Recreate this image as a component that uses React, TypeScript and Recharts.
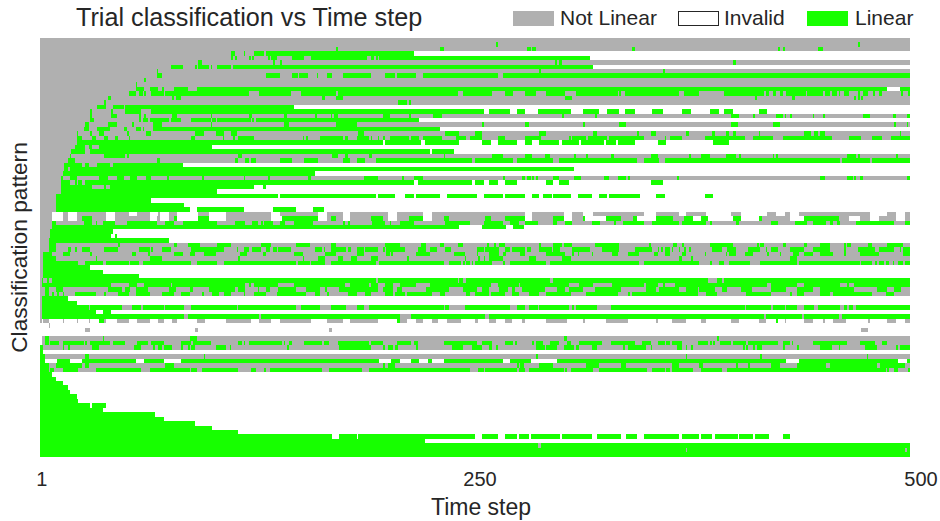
import React from "react";
import { BarChart, Bar, XAxis, YAxis, Legend } from "recharts";

// Runs are flat lists of [from, to, from, to ...] in time steps, one list per trial row.
const A = [0, 500];
const notLinearRuns: number[][] = [
  A, A, A, [0,215], [0,316], A, [0,318], A, A, A,
  A, [0,487,494,500], A, A, A, [0,146], [0,64], A, [0,218], A,
  [0,230], A, A, [0,21], [0,34], [0,29], A, A, [0,82], [0,17],
  [0,13], A, [0,26], [0,40], [0,12], [0,9], [0,9], [0,9], [0,9],
  [0,7,13,16,21,38,43,51,56,63,68,69,74,79,91,97,107,133,138,160,165,174,178,200,205,220,225,279,283,301,306,312,318,347,354,367,371,383,397,403,418,423,428,431,436,477,487,492,497,500],
  [0,7,13,16,21,38,43,63,67,69,74,79,91,97,107,133,165,174,178,200,205,220,225,279,283,301,306,312,334,341,364,370,415,431,459,465,471,477,482,492,497,500],
  A, [0,7], [0,6], [0,6], [0,5], A, A, A, A,
  A, [0,2], [0,2], [0,2], A, A, A, A, [0,1], [0,1],
  A, [0,1], A,
  [0,1,2,5,13,14,21,22,28,29,37,38,44,51,56,63,68,71,76,79,90,95,107,121,126,133,138,156,165,174,178,194,207,211,216,220,225,229,234,242,250,252,258,262,267,271,277,279,291,303,312,313,325,338,354,355,363,371,380,383,397,402,413,417,428,429,439,444,450,451,456,463,476,477,487,492,497,500],
  [5,6], [26,29,89,91,166,168,472,476], [], [1,500], [1,500], [2,500],
  [], [3,500], [], A, A, [], [], [], [], [],
  [], [], [], [], [], [], [], [], [], [],
  [], [286,288], [371,372,497,498], [],
];

const linearRuns: number[][] = [
  [],
  [262,263,470,471],
  [170,171,230,232,280,282,283,285,340,342,424,425,427,428,447,448,448,450],
  [110,112,117,118,123,129,130,215],
  [110,111,112,113,120,121,122,123,131,132,133,136,145,152,156,188,190,192,193,194,195,316],
  [91,93,134,135,138,139,296,297,298,300,398,400],
  [75,82,89,90,91,97,98,99,102,110,111,318],
  [67,68,287,288,358,359],
  [67,70,130,138,145,148,149,154,159,160,165,168,174,190,198,204,205,216,220,263,266,500],
  [60,61],
  [55,56],
  [55,60,63,68,70,71,77,85,90,487,494,500],
  [51,55,57,59,60,61,64,71,72,120,126,144,150,170,171,240,243,260,267,272,279,285,291,302,308,332,333,334,336,367,370,371,371,379,393,416,417,419,421,423,425,427,429,440,441,444,444,448,448,450,451,452,452,454,455,458,459,460,462,465,470,471,473,476,479,480,482,484,495,496,499,500],
  [39,41,76,77,78,81,162,164,170,174,302,306,411,412,432,434,468,469,470,471,472,473],
  [37,38,206,211,212,213],
  [33,38,42,48,49,146],
  [29,30,41,42,49,58,64,255,258,270,274,279,286,305,312,321,326,333,336,342,352,358,369,374,385,390,393,398,413,418],
  [29,30,41,44,57,58,60,61,76,79,98,99,120,122,140,142,158,159,167,168,169,171,197,201,212,213,226,231,300,301,319,320,397,402,410,411,423,427,428,429,431,432,444,445,450,451,473,477,490,492,498,500],
  [29,31,57,58,59,62,63,74,75,81,87,98,99,101,102,121,122,123,124,218],
  [26,28,39,44,53,54,65,70,98,99,140,143,170,182,254,255,279,281,312,313,333,337,397,401,421,423,423,425,491,492,498,499],
  [25,28,33,40,48,50,55,58,59,60,65,230],
  [21,22,29,30,34,37,50,51,61,64,89,94,101,106,110,113,183,186,233,241,250,254,287,291,318,320,343,344,351,354,371,373,386,388,394,396,398,400,413,414,439,443,445,447,448,451,494,495],
  [21,24,30,32,37,39,43,45,51,52,87,89,105,106,111,112,114,123,151,152,153,154,161,174,175,177,182,189,190,191,194,195,197,198,201,212,213,218,220,231,239,245,247,254,263,267,279,287,287,288,304,305,306,314,315,326,327,347,359,360,362,369,382,405,410,421,427,455,465,472,478,484,489,500],
  [21,197,198,219,221,241,254,259,263,274,279,283,287,298,300,310,311,324,325,331,332,342,355,360,387,396],
  [20,26,28,30,34,99],
  [18,26,29,224,225,238],
  [17,18,37,49,50,51,114,116,168,170,170,171,175,177,189,191,232,233,260,266,279,283,290,293,307,308,314,315,328,330,351,355,373,374,380,385,394,400,402,403,421,422,423,424,464,469,470,471,492,493],
  [16,20,67,69,112,114,118,120,121,124,138,145,152,160,174,178,182,187,193,248,250,272,274,295,298,343,347,356,359,460,461,477,478,500],
  [14,24,26,28,33,40,42,82],
  [14,16,17,307],
  [13,158],
  [12,13,17,21,34,39,44,48,52,56,61,64,73,74,93,94,117,118,131,132,154,156,186,194,208,209,215,220,266,267,277,279,280,282,283,284,285,286,295,298,307,311,324,327,332,337,338,339,366,367,448,451,464,467,468,469,471,473,498,500],
  [12,17,20,21,22,24,26,215,217,248,250,255,258,263,267,274,291,295,298,304,351,358],
  [12,30,37,38,40,123,128,130],
  [12,102],
  [9,137,138,193,194,204,210,215,216,230,234,251,255,266,267,279,283,287,289,294,295,305,309,317,321,326,327,345,354,359,382,387],
  [9,64],
  [9,83],
  [9,86,90,117,134,147,157,163],
  [],
  [24,30,77,79,91,97,139,160,167,170,190,197,212,220,232,235,256,259,267,279,295,301,312,313,325,334,341,343,354,364,370,375,380,384,398,403,413,415,439,459],
  [7,9,25,30,32,33,36,43,50,67,72,77,82,102,112,118,122,125,127,128,129,134,138,141,146,157,174,175,177,178,191,198,201,202,207,215,233,247,255,266,270,275,279,286,295,297,302,306,317,322,330,331,335,347,352,367,369,383,385,386,400,402,420,424,434,441,444,452,454,456,458,460,469,491,497,500],
  [7,241,254,268,272,278],
  [6,42],
  [6,41,43,44],
  [5,74],
  [5,9,45,46,77,79,85,92,102,110,127,133,147,155,167,170,198,207,219,222,230,232,240,243,257,258,261,262,264,267,287,288,295,300,301,306,319,333,350,351,364,366,369,370,385,398,412,413,414,416,427,429,439,441,448,454,462,463,464,466,476,478,487,496],
  [5,9,16,18,20,21,24,29,37,45,57,63,64,65,70,75,87,106,113,114,117,120,122,127,130,132,134,136,137,144,158,162,163,164,167,176,177,179,182,186,187,194,197,198,199,210,217,222,224,228,233,236,251,255,256,264,267,270,271,279,280,282,287,294,295,299,306,316,323,333,342,352,355,356,357,358,359,360,360,362,363,364,367,368,370,371,373,374,386,392,395,400,407,414,417,418,420,424,431,439,444,454,462,463,470,480,482,491,494,495,496,500],
  [2,5,5,7,13,17,29,30,53,55,62,63,77,82,86,89,94,101,115,119,128,130,146,151,164,170,182,186,199,201,202,203,216,224,238,244,251,252,258,264,266,268,276,279,291,302,306,307,309,310,317,318,329,332,338,344,353,355,359,362,369,371,382,383,394,395,396,400,405,410,418,419,425,426,433,436,439,444,448,456,462,463,471,482,496,500],
  [2,9,32,33,63,70,114,115,151,152,160,164,171,174,179,182,190,194,211,212,244,245,252,253,255,256,258,266,281,285,300,305,367,369,374,375,431,435],
  [2,22,26,36,38,51,52,57,59,87,90,102,106,147,148,155,156,164,167,193,195,232,235,242,243,244,245,247,248,249,250,260,266,267,270,291,293,344,347,379,385,386,390,393,396,408,414,435,436,439,439,471,472,478,480,481,482,485,486,488,490,491,493,496,497,500],
  [2,29],
  [2,36],
  [2,57],
  [1,2,4,5,7,193,194,240,241,243,245,293,295,384,389,392,393,500],
  [1,2,2,41,51,56,60,75,76,118,120,121,123,137,146,175,178,189,190,194,198,203,207,216,224,259,263,275,276,304,310,318,329,347,348,355,358,359,365,418,420,435,439,460,464,465,468,500],
  [3,5,9,13,39,47,49,52,55,62,74,78,86,88,97,112,114,118,125,126,130,132,137,147,153,161,164,165,172,186,186,194,197,203,205,208,222,235,243,251,254,258,264,269,271,273,277,290,297,302,304,312,319,334,348,354,356,367,371,378,379,388,392,395,403,409,420,429,435,444,448,468,481,487,491,495],
  [3,5,7,8,10,11,13,14,20,32,37,38,45,51,55,63,70,77,81,86,93,94,99,103,106,110,117,118,123,130,136,153,158,161,165,166,177,182,187,190,198,203,204,210,211,225,230,233,245,247,250,258,259,267,271,275,281,287,291,305,314,332,338,339,340,378,383,389,406,420,431,432,435,439,448,454,456,478,486,491],
  [1,16],
  [1,21],
  [1,28,29,47,53,58,59,71,72,83,87,113,114,136,136,147,150,161,167,176,182,186,189,232,233,235,244,270,274,279,281,286,287,304,306,307,308,320,328,405,406,420,421,428,429,435,439,445,447,460,462,464,465,467,469,500],
  [1,32,36,41],
  [1,83,85,126,127,207,213,256,258,416,417,438,439,459,461,500],
  [34,37,205,207,423,424],
  [], [], [],
  [3,5,36,37,86,90,301,303,389,390],
  [3,5,6,9,9,11,13,25,26,27,29,40,42,49,56,62,64,71,81,87,88,89,89,98,114,116,117,118,120,139,140,141,143,145,152,162,163,166,171,189,190,197,205,213,215,217,232,251,254,260,267,272,273,274,283,284,285,289,293,298,303,305,310,323,328,342,346,351,355,359,360,362,363,369,378,384,385,386,387,388,391,397,398,406,407,424,427,431,432,433,444,464,471,480,484,487],
  [0,2,13,14,16,17,30,34,54,58,65,66,68,70,71,76,81,82,85,86,87,89,101,107,109,110,142,143,172,190,197,198,200,203,204,206,216,217,237,243,248,254,258,260,262,263,285,290,291,297,301,307,308,310,317,320,335,336,338,347,347,348,351,352,366,369,371,372,374,375,404,405,406,407,410,411,412,415,427,428,435,436,448,455,459,460,474,481,492,493,494,500],
  [0,2],
  [0,3,26,28,94,95,285,286,371,372,414,415,475,476],
  [0,3,10,17,24,55,60,71,81,195,202,207,213,218,223,225,232,266,270,282,297,429,436,493,498,500],
  [0,5,9,24,26,28,72,77,197,198,200,201,201,204,274,275,276,278,287,295,314,321,334,337,363,367,379,381,400,401,407,408,420,425,435,452,454,481,483,497],
  [0,5,6,8,13,14,14,22,32,58,63,86,87,90,93,114,121,124,129,130,132,162,166,185,189,247,252,255,256,274,275,276,276,279,281,301,302,303,305,318,321,349,352,359,360,362,363,375,380,392,395,486,487,488,491,493,499,500],
  [0,7], [0,9], [0,13], [0,16], [0,17], [0,21], [0,22],
  [0,29,30,38],
  [0,36], [0,66], [0,71], [0,89], [0,99], [0,114],
  [0,168,172,182,183,250,254,263,267,274,275,279,279,281,282,299,300,317,320,334,337,343,347,367,369,379,380,386,388,401,402,410,411,419,427,431],
  [0,221],
  [0,286,288,500],
  [0,371,372,497,498,500],
  [0,500],
];

const tickValues = [1, 250, 500];
const legendItems = ["Not Linear", "Invalid", "Linear"];
const NOT_LINEAR = "#b0b0b0";
const LINEAR = "#17ff00";
const INK = "#262626";
const FONT = '"Liberation Sans", Arial, sans-serif';
const ROW_PX = 419 / 94;

type Mark = { row: number; range: [number, number]; kind: string };
const marks: Mark[] = [];
const collect = (runs: number[][], kind: string) =>
  runs.forEach((list, i) => {
    for (let k = 0; k + 1 < list.length; k += 2) {
      marks.push({ row: i + 0.5, range: [list[k], list[k + 1]], kind });
    }
  });
collect(notLinearRuns, "not");
collect(linearRuns, "lin");

const AxisTick = (p: any) => {
  const v = p.payload.value;
  return (
    <text x={p.x + (v === 1 ? 0 : v === 250 ? 5 : 11)} y={p.y + 21} textAnchor="middle" fontSize={20} fill={INK} fontFamily={FONT}>
      {v}
    </text>
  );
};

// The bar supplies x, width and the row position from the chart's scales.
const RowCell = (p: any) => (
  <rect
    x={p.x}
    y={p.y + p.height / 2 - ROW_PX / 2}
    width={p.width}
    height={ROW_PX}
    fill={p.payload.kind === "lin" ? LINEAR : NOT_LINEAR}
  />
);

const LegendBox = () => {
  const base: React.CSSProperties = { position: "absolute", top: 5, fontSize: 21, lineHeight: "26px", color: INK, fontFamily: FONT, whiteSpace: "nowrap" };
  const sw: React.CSSProperties = { position: "absolute", top: 11, height: 15, boxSizing: "border-box" };
  return (
    <div style={{ position: "absolute", left: 0, top: 0, width: 940, height: 38 }}>
      <div style={{ ...sw, left: 513, width: 41, background: NOT_LINEAR }} />
      <div style={{ ...base, left: 560 }}>{legendItems[0]}</div>
      <div style={{ ...sw, left: 678, width: 41, border: `1px solid ${INK}`, background: "#fff" }} />
      <div style={{ ...base, left: 724 }}>{legendItems[1]}</div>
      <div style={{ ...sw, left: 807, width: 41, background: LINEAR }} />
      <div style={{ ...base, left: 855 }}>{legendItems[2]}</div>
    </div>
  );
};

export default function App() {
  return (
    <div style={{ position: "absolute", left: 0, top: 0, width: 940, height: 521, background: "#fff" }}>
      <BarChart
        width={940}
        height={521}
        layout="vertical"
        data={marks}
        barSize={4}
        margin={{ top: 38, right: 30, bottom: 0, left: 0 }}
        style={{ shapeRendering: "crispEdges" }}
      >
        <XAxis
          type="number"
          domain={[0, 500]}
          ticks={tickValues}
          tick={AxisTick}
          tickLine={false}
          axisLine={false}
          height={64}
          interval={0}
          label={{ value: "Time step", position: "insideBottom", offset: 6, dx: 6, fontSize: 23, fill: INK, fontFamily: FONT }}
        />
        <YAxis
          type="number"
          dataKey="row"
          domain={[0, 94]}
          tick={false}
          tickLine={false}
          axisLine={false}
          width={40}
          label={{ value: "Classification pattern", angle: -90, position: "insideLeft", offset: 19, dy: 0, fontSize: 22.7, fill: INK, fontFamily: FONT, style: { textAnchor: "middle" } }}
        />
        <Legend content={<LegendBox />} wrapperStyle={{ position: "absolute", left: 0, top: 0, width: 940, height: 0 }} />
        <Bar dataKey="range" isAnimationActive={false} stroke="none" shape={RowCell} />
        <text x={76} y={26} fontSize={25.2} fill={INK} fontFamily={FONT}>
          Trial classification vs Time step
        </text>
      </BarChart>
    </div>
  );
}
